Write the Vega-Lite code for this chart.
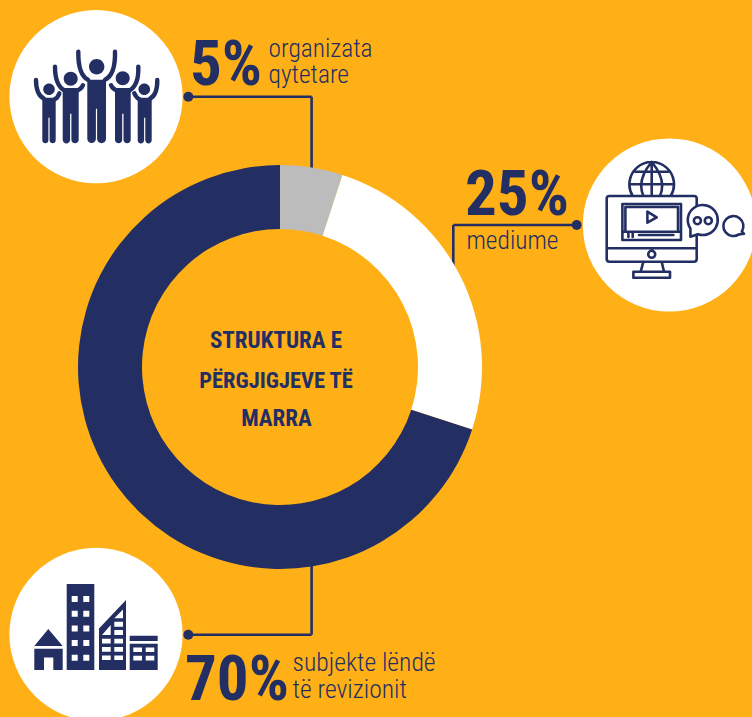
{"$schema":"https://vega.github.io/schema/vega-lite/v6.json","width":752,"height":717,"padding":0,"autosize":"none","background":"#FFB017","config":{"view":{"stroke":null}},
"datasets":{"shares":[{"category":"organizata qytetare","share":5,"ord":1,"pct":"5%","l1":"organizata","l2":"qytetare"},{"category":"mediume","share":25,"ord":2,"pct":"25%","l1":"mediume"},{"category":"subjekte lëndë të revizionit","share":70,"ord":3,"pct":"70%","l1":"subjekte lëndë","l2":"të revizionit"}],"one":[{"k":1}]},
"data":{"name":"shares"},
"layer":[
{"data":{"name":"one"},"mark":{"type":"point","filled":true,"fill":"#FFFFFF","opacity":1,"shape":"circle","size":30000},"encoding":{"x":{"datum":96,"type":"quantitative","scale":{"domain":[0,752]},"axis":null},"y":{"datum":96.7,"type":"quantitative","scale":{"domain":[717,0]},"axis":null}}},
{"data":{"name":"one"},"mark":{"type":"point","filled":true,"fill":"#FFFFFF","opacity":1,"shape":"circle","size":30000},"encoding":{"x":{"datum":669.4,"type":"quantitative","scale":{"domain":[0,752]},"axis":null},"y":{"datum":225,"type":"quantitative","scale":{"domain":[717,0]},"axis":null}}},
{"data":{"name":"one"},"mark":{"type":"point","filled":true,"fill":"#FFFFFF","opacity":1,"shape":"circle","size":30000},"encoding":{"x":{"datum":96,"type":"quantitative","scale":{"domain":[0,752]},"axis":null},"y":{"datum":634.4,"type":"quantitative","scale":{"domain":[717,0]},"axis":null}}},
{"data":{"name":"one"},"mark":{"type":"rule","color":"#232F63","strokeWidth":2.6},"encoding":{"x":{"datum":188.3,"type":"quantitative","scale":{"domain":[0,752]},"axis":null},"x2":{"datum":311.6},"y":{"datum":96.7,"type":"quantitative","scale":{"domain":[717,0]},"axis":null}}},
{"data":{"name":"one"},"mark":{"type":"rule","color":"#232F63","strokeWidth":2.6},"encoding":{"x":{"datum":311.6,"type":"quantitative","scale":{"domain":[0,752]},"axis":null},"y":{"datum":96.7,"type":"quantitative","scale":{"domain":[717,0]},"axis":null},"y2":{"datum":170}}},
{"data":{"name":"one"},"mark":{"type":"rule","color":"#232F63","strokeWidth":2.6},"encoding":{"x":{"datum":453.3,"type":"quantitative","scale":{"domain":[0,752]},"axis":null},"x2":{"datum":576.7},"y":{"datum":225,"type":"quantitative","scale":{"domain":[717,0]},"axis":null}}},
{"data":{"name":"one"},"mark":{"type":"rule","color":"#232F63","strokeWidth":2.6},"encoding":{"x":{"datum":453.3,"type":"quantitative","scale":{"domain":[0,752]},"axis":null},"y":{"datum":225,"type":"quantitative","scale":{"domain":[717,0]},"axis":null},"y2":{"datum":268}}},
{"data":{"name":"one"},"mark":{"type":"rule","color":"#232F63","strokeWidth":2.6},"encoding":{"x":{"datum":188.3,"type":"quantitative","scale":{"domain":[0,752]},"axis":null},"x2":{"datum":311.6},"y":{"datum":634.7,"type":"quantitative","scale":{"domain":[717,0]},"axis":null}}},
{"data":{"name":"one"},"mark":{"type":"rule","color":"#232F63","strokeWidth":2.6},"encoding":{"x":{"datum":311.6,"type":"quantitative","scale":{"domain":[0,752]},"axis":null},"y":{"datum":634.7,"type":"quantitative","scale":{"domain":[717,0]},"axis":null},"y2":{"datum":565}}},
{"data":{"name":"one"},"mark":{"type":"point","filled":true,"fill":"#232F63","opacity":1,"shape":"circle","size":100},"encoding":{"x":{"datum":188.3,"type":"quantitative","scale":{"domain":[0,752]},"axis":null},"y":{"datum":96.7,"type":"quantitative","scale":{"domain":[717,0]},"axis":null}}},
{"data":{"name":"one"},"mark":{"type":"point","filled":true,"fill":"#232F63","opacity":1,"shape":"circle","size":100},"encoding":{"x":{"datum":576.7,"type":"quantitative","scale":{"domain":[0,752]},"axis":null},"y":{"datum":225,"type":"quantitative","scale":{"domain":[717,0]},"axis":null}}},
{"data":{"name":"one"},"mark":{"type":"point","filled":true,"fill":"#232F63","opacity":1,"shape":"circle","size":100},"encoding":{"x":{"datum":188.3,"type":"quantitative","scale":{"domain":[0,752]},"axis":null},"y":{"datum":634.7,"type":"quantitative","scale":{"domain":[717,0]},"axis":null}}},
{"mark":{"type":"arc","radius":202,"radius2":138},"encoding":{"x":{"datum":280,"type":"quantitative","scale":{"domain":[0,752]},"axis":null},"y":{"datum":367,"type":"quantitative","scale":{"domain":[717,0]},"axis":null},"theta":{"field":"share","type":"quantitative","stack":true},"order":{"field":"ord"},"color":{"field":"category","type":"nominal","legend":null,"scale":{"domain":["organizata qytetare","mediume","subjekte lëndë të revizionit"],"range":["#BCBCBC","#FFFFFF","#232F63"]}}}},
{"data":{"name":"one"},"mark":{"type":"point","filled":true,"fill":"#232F63","opacity":1,"size":4,"shape":"M-7,-30 a7.7,7.7 0 1,1 15.4,0 a7.7,7.7 0 1,1 -15.4,0Z M-32.3,-18 a7,7 0 1,1 14,0 a7,7 0 1,1 -14,0Z M19.7,-18.4 a7,7 0 1,1 14,0 a7,7 0 1,1 -14,0Z M-52.8,-7.4 a5.8,5.8 0 1,1 11.6,0 a5.8,5.8 0 1,1 -11.6,0Z M42.5,-7.4 a5.8,5.8 0 1,1 11.6,0 a5.8,5.8 0 1,1 -11.6,0Z M-8.7,-17 L10,-17 L10,42 A4.45,4.45 0 0 1 1.1,42 L1.1,12 L-0.1,12 L-0.1,42 A4.3,4.3 0 0 1 -8.7,42 Z M-33.3,-8.7 L-17.3,-8.7 L-17.3,43 A3.65,3.65 0 0 1 -24.6,43 L-24.6,17 L-25.9,17 L-25.9,43 A3.7,3.7 0 0 1 -33.3,43 Z M19,-8.7 L34.7,-8.7 L34.7,43 A3.6,3.6 0 0 1 27.5,43 L27.5,17 L26.2,17 L26.2,43 A3.6,3.6 0 0 1 19,43 Z M-53.7,1 L-40.3,1 L-40.3,43.6 A3.05,3.05 0 0 1 -46.4,43.6 L-46.4,21 L-47.6,21 L-47.6,43.6 A3.05,3.05 0 0 1 -53.7,43.6 Z M41.7,1 L55.7,1 L55.7,43.6 A3.2,3.2 0 0 1 49.3,43.6 L49.3,21 L48.1,21 L48.1,43.6 A3.2,3.2 0 0 1 41.7,43.6 Z"},"encoding":{"x":{"datum":96,"type":"quantitative","scale":{"domain":[0,752]},"axis":null},"y":{"datum":96.7,"type":"quantitative","scale":{"domain":[717,0]},"axis":null}}},
{"data":{"name":"one"},"mark":{"type":"point","filled":false,"stroke":"#232F63","strokeWidth":4.4,"strokeCap":"round","opacity":1,"size":4,"shape":"M-8,-17 Q-18,-22 -17.7,-45 M9,-17 Q19.5,-22 19,-45 M-31,-6 Q-41,-11 -41,-30 M-20,-6 Q-15,-7 -13,-11.5 M33,-6 Q43,-11 42.3,-30 M22,-6 Q17,-7 15,-11.5 M-52,2 Q-60,-2 -60,-16.7 M-42,3 Q-38,1 -36.7,-3.4 M54,2 Q61.5,-2 61.3,-16.7 M44,3 Q40,1 38.3,-3.4"},"encoding":{"x":{"datum":96,"type":"quantitative","scale":{"domain":[0,752]},"axis":null},"y":{"datum":96.7,"type":"quantitative","scale":{"domain":[717,0]},"axis":null}}},
{"data":{"name":"one"},"mark":{"type":"point","filled":false,"stroke":"#232F63","strokeWidth":2.6,"strokeJoin":"round","strokeCap":"round","opacity":1,"size":4,"shape":"M-36.7,-29 A22.3,22.3 0 1 1 1.3,-29 M-17.7,-63 L-17.7,-29 M-17.7,-63 Q-33,-45 -26,-29 M-17.7,-63 Q-2.5,-45 -9.4,-29 M-34,-53.3 L-1.4,-53.3 M-40,-40.7 L4.6,-40.7 M-60,-29 L24.7,-29 Q27.3,-29 27.3,-26.4 L27.3,34 Q27.3,36.7 24.7,36.7 L-60,36.7 Q-62.7,36.7 -62.7,34 L-62.7,-26.4 Q-62.7,-29 -60,-29 Z M-62.7,23.3 L27.3,23.3 M-21.2,29.3 a3.5,3.5 0 1,1 7,0 a3.5,3.5 0 1,1 -7,0Z M-26,36.7 L-28.7,46.7 M-7.7,36.7 L-5.4,46.7 M-36,46.7 L0.6,46.7 L0.6,52.7 L-36,52.7 Z M-47,-21 L11.6,-21 L11.6,15 L-47,15 Z M-47,6.7 L11.6,6.7 M-44,-18 L8.6,-18 L8.6,6.7 M-44,-18 L-44,6.7 M-22,-13.3 L-22,-2.3 L-12.7,-7.7 Z M-30.4,10 L4,10 M-41,8 L-41,12 M-36.7,8 L-36.7,12"},"encoding":{"x":{"datum":669.4,"type":"quantitative","scale":{"domain":[0,752]},"axis":null},"y":{"datum":225,"type":"quantitative","scale":{"domain":[717,0]},"axis":null}}},
{"data":{"name":"one"},"mark":{"type":"point","filled":true,"fill":"#FFFFFF","stroke":"#232F63","strokeWidth":2.6,"strokeJoin":"round","opacity":1,"size":4,"shape":"M21,11.7 L21,3.5 A15,15 0 1 1 28.5,9.2 Z M24.5,-4.3 a3.5,3.5 0 1,1 7,0 a3.5,3.5 0 1,1 -7,0Z M35.4,-4.3 a3.5,3.5 0 1,1 7,0 a3.5,3.5 0 1,1 -7,0Z M74.6,8.8 L69.5,9.4 A10,10 0 1 1 72.5,6.3 Z"},"encoding":{"x":{"datum":669.4,"type":"quantitative","scale":{"domain":[0,752]},"axis":null},"y":{"datum":225,"type":"quantitative","scale":{"domain":[717,0]},"axis":null}}},
{"data":{"name":"one"},"mark":{"type":"point","filled":true,"fill":"#232F63","opacity":1,"size":4,"shape":"M-61.7,11.6 L-47.7,-5.4 L-33.3,11.6 Z M-61.7,14.3 L-33.3,14.3 L-33.3,35.6 L-61.7,35.6 Z M-29.3,-50.4 L-1.7,-50.4 L-1.7,35.6 L-29.3,35.6 Z M3,35.6 L3,-6 L30,-34.4 L30,35.6 Z M33.7,1.3 L61.7,1.3 L61.7,6.6 L33.7,6.6 Z M33.7,9.3 L61.7,9.3 L61.7,35.6 L33.7,35.6 Z"},"encoding":{"x":{"datum":96,"type":"quantitative","scale":{"domain":[0,752]},"axis":null},"y":{"datum":634.4,"type":"quantitative","scale":{"domain":[717,0]},"axis":null}}},
{"data":{"name":"one"},"mark":{"type":"point","filled":true,"fill":"#FFFFFF","opacity":1,"size":4,"shape":"M-52,35.6 L-52,23 L-42.7,23 L-42.7,35.6 Z M-24.3,-38.4 h6 v6 h-6 Z M-12.7,-38.4 h6 v6 h-6 Z M-24.3,-23.7 h6 v6 h-6 Z M-12.7,-23.7 h6 v6 h-6 Z M-24.3,-9 h6 v6 h-6 Z M-12.7,-9 h6 v6 h-6 Z M-24.3,5.6 h6 v6 h-6 Z M-12.7,5.6 h6 v6 h-6 Z M-24.3,20.3 h6 v6 h-6 Z M-12.7,20.3 h6 v6 h-6 Z M6,4.3 h8.7 v4.7 h-8.7 Z M18.3,4.3 h8.7 v4.7 h-8.7 Z M6,12.6 h8.7 v4.7 h-8.7 Z M18.3,12.6 h8.7 v4.7 h-8.7 Z M6,21 h8.7 v4.6 h-8.7 Z M18.3,21 h8.7 v4.6 h-8.7 Z M18.3,-4.4 h8.7 v5 h-8.7 Z M18.3,-12.7 h8.7 v5 h-8.7 Z M6,0.6 L14.7,0.6 L14.7,-9.4 Z M18.3,-16.1 L27,-16.1 L27,-25 Z M37.3,13 h8.7 v4.6 h-8.7 Z M49.7,13 h8.6 v4.6 h-8.6 Z M37.3,21.3 h8.7 v4.7 h-8.7 Z M49.7,21.3 h8.6 v4.7 h-8.6 Z"},"encoding":{"x":{"datum":96,"type":"quantitative","scale":{"domain":[0,752]},"axis":null},"y":{"datum":634.4,"type":"quantitative","scale":{"domain":[717,0]},"axis":null}}},
{"transform":[{"filter":"datum.share==5"}],"mark":{"type":"text","align":"left","baseline":"alphabetic","font":"Roboto Condensed","fontWeight":"bold","fontSize":63,"color":"#232F63"},"encoding":{"text":{"field":"pct"},"x":{"datum":190,"type":"quantitative","scale":{"domain":[0,752]},"axis":null},"y":{"datum":85,"type":"quantitative","scale":{"domain":[717,0]},"axis":null}}},
{"transform":[{"filter":"datum.share==25"}],"mark":{"type":"text","align":"left","baseline":"alphabetic","font":"Roboto Condensed","fontWeight":"bold","fontSize":63,"color":"#232F63"},"encoding":{"text":{"field":"pct"},"x":{"datum":465,"type":"quantitative","scale":{"domain":[0,752]},"axis":null},"y":{"datum":215,"type":"quantitative","scale":{"domain":[717,0]},"axis":null}}},
{"transform":[{"filter":"datum.share==70"}],"mark":{"type":"text","align":"left","baseline":"alphabetic","font":"Roboto Condensed","fontWeight":"bold","fontSize":63,"color":"#232F63"},"encoding":{"text":{"field":"pct"},"x":{"datum":185,"type":"quantitative","scale":{"domain":[0,752]},"axis":null},"y":{"datum":700,"type":"quantitative","scale":{"domain":[717,0]},"axis":null}}},
{"transform":[{"filter":"datum.share==5"}],"mark":{"type":"text","align":"left","baseline":"alphabetic","font":"Roboto Condensed","fontWeight":300,"fontSize":25.4,"color":"#232F63"},"encoding":{"text":{"field":"l1"},"x":{"datum":268.5,"type":"quantitative","scale":{"domain":[0,752]},"axis":null},"y":{"datum":56.7,"type":"quantitative","scale":{"domain":[717,0]},"axis":null}}},
{"transform":[{"filter":"datum.share==5"}],"mark":{"type":"text","align":"left","baseline":"alphabetic","font":"Roboto Condensed","fontWeight":300,"fontSize":25.4,"color":"#232F63"},"encoding":{"text":{"field":"l2"},"x":{"datum":268.5,"type":"quantitative","scale":{"domain":[0,752]},"axis":null},"y":{"datum":82.7,"type":"quantitative","scale":{"domain":[717,0]},"axis":null}}},
{"transform":[{"filter":"datum.share==25"}],"mark":{"type":"text","align":"left","baseline":"alphabetic","font":"Roboto Condensed","fontWeight":300,"fontSize":25.4,"color":"#232F63"},"encoding":{"text":{"field":"l1"},"x":{"datum":466.5,"type":"quantitative","scale":{"domain":[0,752]},"axis":null},"y":{"datum":249,"type":"quantitative","scale":{"domain":[717,0]},"axis":null}}},
{"transform":[{"filter":"datum.share==70"}],"mark":{"type":"text","align":"left","baseline":"alphabetic","font":"Roboto Condensed","fontWeight":300,"fontSize":25.6,"color":"#232F63"},"encoding":{"text":{"field":"l1"},"x":{"datum":292.5,"type":"quantitative","scale":{"domain":[0,752]},"axis":null},"y":{"datum":670.7,"type":"quantitative","scale":{"domain":[717,0]},"axis":null}}},
{"transform":[{"filter":"datum.share==70"}],"mark":{"type":"text","align":"left","baseline":"alphabetic","font":"Roboto Condensed","fontWeight":300,"fontSize":25.6,"color":"#232F63"},"encoding":{"text":{"field":"l2"},"x":{"datum":292.5,"type":"quantitative","scale":{"domain":[0,752]},"axis":null},"y":{"datum":697.7,"type":"quantitative","scale":{"domain":[717,0]},"axis":null}}},
{"data":{"values":[{"t":"STRUKTURA E"}]},"mark":{"type":"text","align":"center","baseline":"alphabetic","font":"Roboto Condensed","fontWeight":"bold","fontSize":23,"color":"#232F63"},"encoding":{"text":{"field":"t"},"x":{"datum":276,"type":"quantitative","scale":{"domain":[0,752]},"axis":null},"y":{"datum":348,"type":"quantitative","scale":{"domain":[717,0]},"axis":null}}},
{"data":{"values":[{"t":"PËRGJIGJEVE TË"}]},"mark":{"type":"text","align":"center","baseline":"alphabetic","font":"Roboto Condensed","fontWeight":"bold","fontSize":22.5,"color":"#232F63"},"encoding":{"text":{"field":"t"},"x":{"datum":276,"type":"quantitative","scale":{"domain":[0,752]},"axis":null},"y":{"datum":388,"type":"quantitative","scale":{"domain":[717,0]},"axis":null}}},
{"data":{"values":[{"t":"MARRA"}]},"mark":{"type":"text","align":"center","baseline":"alphabetic","font":"Roboto Condensed","fontWeight":"bold","fontSize":23,"color":"#232F63"},"encoding":{"text":{"field":"t"},"x":{"datum":276.5,"type":"quantitative","scale":{"domain":[0,752]},"axis":null},"y":{"datum":426,"type":"quantitative","scale":{"domain":[717,0]},"axis":null}}}
]}
